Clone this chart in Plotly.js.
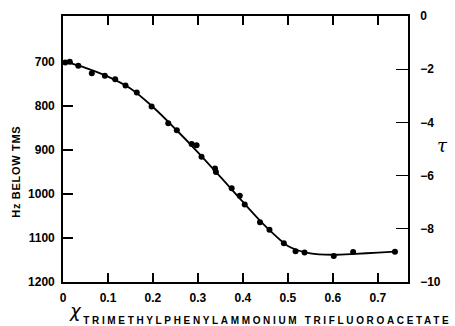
<!DOCTYPE html>
<html>
<head>
<meta charset="utf-8">
<script src="https://cdn.plot.ly/plotly-3.0.1.min.js"></script>
<style>html,body{margin:0;padding:0;background:#fff;}#chart{width:455px;height:326px;}</style>
</head>
<body>
<div id="chart"></div>
<script>
// Measured points: mole fraction vs Hz below TMS
const moleFraction = [0.005, 0.015, 0.034, 0.064, 0.093, 0.116, 0.139, 0.164, 0.197, 0.234, 0.253, 0.286, 0.297, 0.308, 0.338, 0.340, 0.375, 0.393, 0.404, 0.438, 0.459, 0.491, 0.517, 0.537, 0.602, 0.645, 0.738];
const hzBelowTms = [701, 699, 708, 725, 731, 739, 753, 769, 801, 839, 855, 886, 889, 915, 942, 950, 987, 1004, 1024, 1064, 1081, 1112, 1130, 1133, 1141, 1132, 1131];
// Drawn smooth curve
const curveX = [0.005, 0.05, 0.1, 0.15, 0.2, 0.25, 0.3, 0.35, 0.4, 0.45, 0.5, 0.55, 0.6, 0.65, 0.7, 0.738];
const curveY = [699, 713, 733, 760, 802, 852, 905, 961, 1018, 1073, 1118, 1135, 1138, 1136, 1133, 1131];
// Tick labels
const xTickVals = [0, 0.1, 0.2, 0.3, 0.4, 0.5, 0.6, 0.7];
const xTickText = ["0", "0.1", "0.2", "0.3", "0.4", "0.5", "0.6", "0.7"];
const yTickVals = [700, 800, 900, 1000, 1100, 1200];
const tauTickVals = [0, -2, -4, -6, -8, -10];
const tauTickText = ["0", "\u22122", "\u22124", "\u22126", "\u22128", "\u221210"];
const yTitleText = "Hz BELOW TMS";
const subscriptText = "TRIMETHYLPHENYLAMMONIUM TRIFLUOROACETATE";

const tickFont = {family: "Liberation Sans, Arial, sans-serif", size: 12, color: "#000", weight: 700};

const traces = [
  {x: curveX, y: curveY, type: "scatter", mode: "lines",
   line: {color: "#000", width: 1.8, shape: "spline", smoothing: 0.8}, hoverinfo: "skip"},
  {x: moleFraction, y: hzBelowTms, type: "scatter", mode: "markers",
   marker: {color: "#000", size: 6}},
  {x: [0.3], y: [-5], type: "scatter", mode: "markers", yaxis: "y2",
   marker: {opacity: 0}, hoverinfo: "skip"}
];

const layout = {
  width: 455, height: 326,
  margin: {l: 63, r: 47, t: 16, b: 44},
  paper_bgcolor: "#fff", plot_bgcolor: "#fff",
  showlegend: false,
  xaxis: {range: [0, 0.767], tickvals: xTickVals, ticktext: xTickText,
    ticks: "inside", ticklen: 9, tickwidth: 1.3, tickcolor: "#000",
    showline: true, linecolor: "#000", linewidth: 1.8, mirror: "ticks",
    showgrid: false, zeroline: false, tickfont: tickFont, ticklabelstandoff: 4},
  yaxis: {range: [1200, 595], tickvals: yTickVals,
    ticks: "inside", ticklen: 10, tickwidth: 1.3, tickcolor: "#000",
    showline: true, linecolor: "#000", linewidth: 1.8,
    showgrid: false, zeroline: false, tickfont: tickFont, ticklabelstandoff: 4},
  yaxis2: {range: [-10, 0], overlaying: "y", side: "right",
    tickvals: tauTickVals, ticktext: tauTickText,
    ticks: "inside", ticklen: 12, tickwidth: 1.3, tickcolor: "#000",
    showline: true, linecolor: "#000", linewidth: 1.8,
    showgrid: false, zeroline: false, tickfont: tickFont, ticklabelstandoff: 8},
  annotations: [
    {text: yTitleText, xref: "paper", yref: "paper", x: -0.136, y: 0.414,
     xanchor: "center", yanchor: "middle", textangle: -90, showarrow: false,
     font: {family: "Liberation Sans, Arial, sans-serif", size: 11, color: "#000", weight: 700}},
    {text: "\u03c4", xref: "paper", yref: "paper", x: 1.101, y: 0.515,
     xanchor: "center", yanchor: "middle", showarrow: false,
     font: {family: "DejaVu Serif, serif", size: 18, color: "#000", style: "italic"}},
    {text: "\u03c7", xref: "paper", yref: "paper", x: 0.012, y: -0.108,
     xanchor: "left", yanchor: "middle", showarrow: false,
     font: {family: "DejaVu Sans, sans-serif", size: 18, color: "#000", style: "italic"}},
    {text: subscriptText, xref: "paper", yref: "paper", x: 0.588, y: -0.143,
     xanchor: "center", yanchor: "middle", showarrow: false,
     font: {family: "Liberation Sans, Arial, sans-serif", size: 10, color: "#000", weight: 700}}
  ]
};

function spread(t, str, target) {
  const len = t.getComputedTextLength();
  const sp = (target - len) / str.length;
  t.style.letterSpacing = sp + "px";
  // letter-spacing adds after each glyph; shift back by half a gap to stay centred
  t.setAttribute("dx", (sp / 2) + "px");
}

Plotly.newPlot("chart", traces, layout, {staticPlot: true, displayModeBar: false}).then(function () {
  document.querySelectorAll(".annotation-text").forEach(function (t) {
    if (t.textContent === subscriptText) spread(t, subscriptText, 368);
    if (t.textContent === yTitleText) spread(t, yTitleText, 92);
  });
});
</script>
</body>
</html>
